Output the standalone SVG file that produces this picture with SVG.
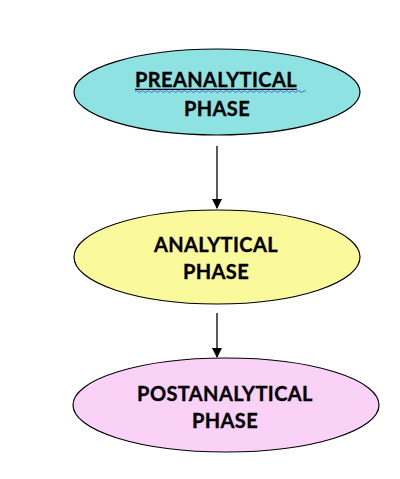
<svg xmlns="http://www.w3.org/2000/svg" width="400" height="479" viewBox="0 0 400 479">
<style>
.n{stroke:#000;stroke-width:1.2}
.t{font-family:Lato,"Open Sans","Liberation Sans",sans-serif;font-weight:bold;font-size:20px;letter-spacing:0.4px;fill:#000;stroke:#000;stroke-width:0.35;text-anchor:middle}
.c{stroke:#000;stroke-width:1.3;fill:none}
</style>
<defs>
<marker id="ah" markerWidth="10" markerHeight="10" refX="9" refY="5" orient="auto" markerUnits="userSpaceOnUse">
<path d="M0,0 L10,5 L0,10 z" fill="#000"/>
</marker>
</defs>
<rect width="400" height="479" fill="#fff"/>
<g id="connectors">
<line class="c" x1="217" y1="146" x2="217" y2="208" marker-end="url(#ah)"/>
<line class="c" x1="217" y1="313" x2="217" y2="357" marker-end="url(#ah)"/>
</g>
<g id="preanalytical">
<ellipse class="n" cx="217" cy="92" rx="143" ry="43" fill="#8EE2E2"/>
<text class="t" x="216" y="87">PREANALYTICAL</text>
<line x1="135" y1="89.3" x2="297" y2="89.3" stroke="#000" stroke-width="1.2"/>
<path d="M135,91.5 q1.5,-2 3,0 t3,0 t3,0 t3,0 t3,0 t3,0 t3,0 t3,0 t3,0 t3,0 t3,0 t3,0 t3,0 t3,0 t3,0 t3,0 t3,0 t3,0 t3,0 t3,0 t3,0 t3,0 t3,0 t3,0 t3,0 t3,0 t3,0 t3,0 t3,0 t3,0 t3,0 t3,0 t3,0 t3,0 t3,0 t3,0 t3,0 t3,0 t3,0 t3,0 t3,0 t3,0 t3,0 t3,0 t3,0 t3,0 t3,0 t3,0 t3,0 t3,0 t3,0 t3,0 t3,0 t3,0 t3,0 t3,0 t3,0" fill="none" stroke="#3355ee" stroke-width="0.9"/>
<text class="t" x="217" y="116">PHASE</text>
</g>
<g id="analytical">
<ellipse class="n" cx="217" cy="257" rx="143" ry="47" fill="#FAFA9C"/>
<text class="t" x="216" y="252">ANALYTICAL</text>
<text class="t" x="216" y="279">PHASE</text>
</g>
<g id="postanalytical">
<ellipse class="n" cx="226" cy="405" rx="153" ry="47" fill="#FAD2F8"/>
<text class="t" x="225" y="401">POSTANALYTICAL</text>
<text class="t" x="225" y="428">PHASE</text>
</g>
</svg>
